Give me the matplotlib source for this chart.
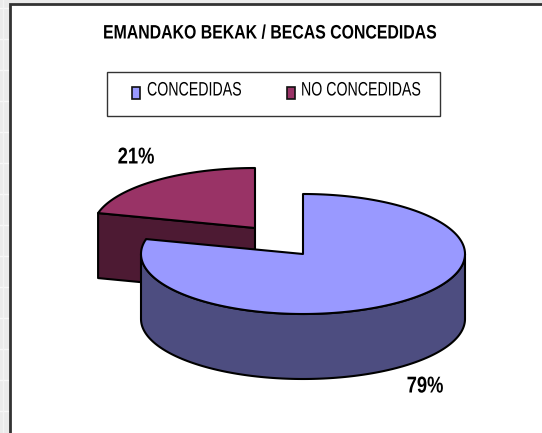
import numpy as np
import matplotlib
matplotlib.use("Agg")
import matplotlib.pyplot as plt
from matplotlib.patches import Polygon, Rectangle
from matplotlib.patheffects import AbstractPathEffect
from matplotlib.transforms import Affine2D

TITLE = "EMANDAKO BEKAK / BECAS CONCEDIDAS"
categories = ["CONCEDIDAS", "NO CONCEDIDAS"]
values = [79, 21]
labels = ["79%", "21%"]

plt.rcParams['font.family'] = ['Liberation Sans', 'DejaVu Sans']
W, H = 542, 433
fig = plt.figure(figsize=(W/100, H/100), dpi=100, facecolor='#ebebeb')
ax = fig.add_axes([0, 0, 1, 1])
ax.set_xlim(0, W); ax.set_ylim(H, 0); ax.axis('off')


class Squeeze(AbstractPathEffect):
    """Narrow the glyphs horizontally about a given x position."""
    def __init__(self, x, sx):
        super().__init__()
        self.x, self.sx = x, sx

    def draw_path(self, renderer, gc, tpath, affine, rgbFace=None):
        x0 = ax.transData.transform((self.x, 0))[0]
        t = affine + Affine2D().translate(-x0, 0).scale(self.sx, 1).translate(x0, 0)
        renderer.draw_path(gc, tpath, t, rgbFace)


def ntext(x, y, s, size, sx, ha='center', weight='normal'):
    ax.text(x, y, s, ha=ha, va='center', fontsize=size, fontweight=weight, color='black',
            zorder=9, path_effects=[Squeeze(x, sx)])


# tiled backdrop
for y in np.arange(8, H, 31):
    ax.plot([0, 9], [y, y], color='#f8f8f8', lw=1, zorder=0)
ax.plot([3, 3], [0, H], color='#f4f4f4', lw=1, zorder=0)
ax.add_patch(Rectangle((9.5, 3.5), W, H, fc='white', ec='#333333', lw=2, zorder=1))

RX, RY, DEPTH = 162, 60, 65
centers = {0: (303, 254), 1: (255, 228)}
TOPS = ['#9999FF', '#993366']
SIDES = ['#4D4D80', '#4D1A33']
EC = '#000000'; LW = 1.5

fr = np.array(values) / sum(values)
a0 = 90.0
a1 = a0 - 360 * fr[0]
a2 = a1 - 360 * fr[1]


def ell(c, deg, dz=0):
    t = np.radians(deg)
    return np.c_[c[0] + RX*np.cos(t), c[1] - RY*np.sin(t) + dz]


c = centers[1]
arc = np.linspace(a1, a2, 80)
left = ell(c, a1)[0]
ax.add_patch(Polygon([tuple(left), c, (c[0], c[1]+DEPTH), (left[0], left[1]+DEPTH)],
                     closed=True, fc=SIDES[1], ec=EC, lw=LW, zorder=3, joinstyle='round'))
ax.add_patch(Polygon(np.vstack([[c], ell(c, arc)]), closed=True, fc=TOPS[1], ec=EC, lw=LW,
                     zorder=4, joinstyle='round'))

c = centers[0]
wall = np.linspace(180, 360, 160)
ax.add_patch(Polygon(np.vstack([ell(c, wall), ell(c, wall[::-1], DEPTH)]), closed=True,
                     fc=SIDES[0], ec=EC, lw=LW, zorder=5, joinstyle='round'))
arc = np.linspace(a0, a1, 300)
ax.add_patch(Polygon(np.vstack([[c], ell(c, arc)]), closed=True, fc=TOPS[0], ec=EC, lw=LW,
                     zorder=6, joinstyle='round'))

ntext(270, 34, TITLE, 14, 0.815, weight='bold')
ax.add_patch(Rectangle((107, 71.5), 332.5, 44, fc='white', ec='#333333', lw=1, zorder=7))
ntext(147, 91, categories[0], 14, 0.73, ha='left')
ntext(301, 91, categories[1], 14, 0.73, ha='left')
for x, col in ((132, TOPS[0]), (286.5, TOPS[1])):
    ax.add_patch(Rectangle((x, 87), 8, 11.5, fc=col, ec='#111111', lw=1.2, zorder=8))
ntext(425, 386, labels[0], 16.5, 0.8, weight='bold')
ntext(136, 157, labels[1], 16.5, 0.8, weight='bold')

fig.savefig('out.png', dpi=100, facecolor=fig.get_facecolor())
